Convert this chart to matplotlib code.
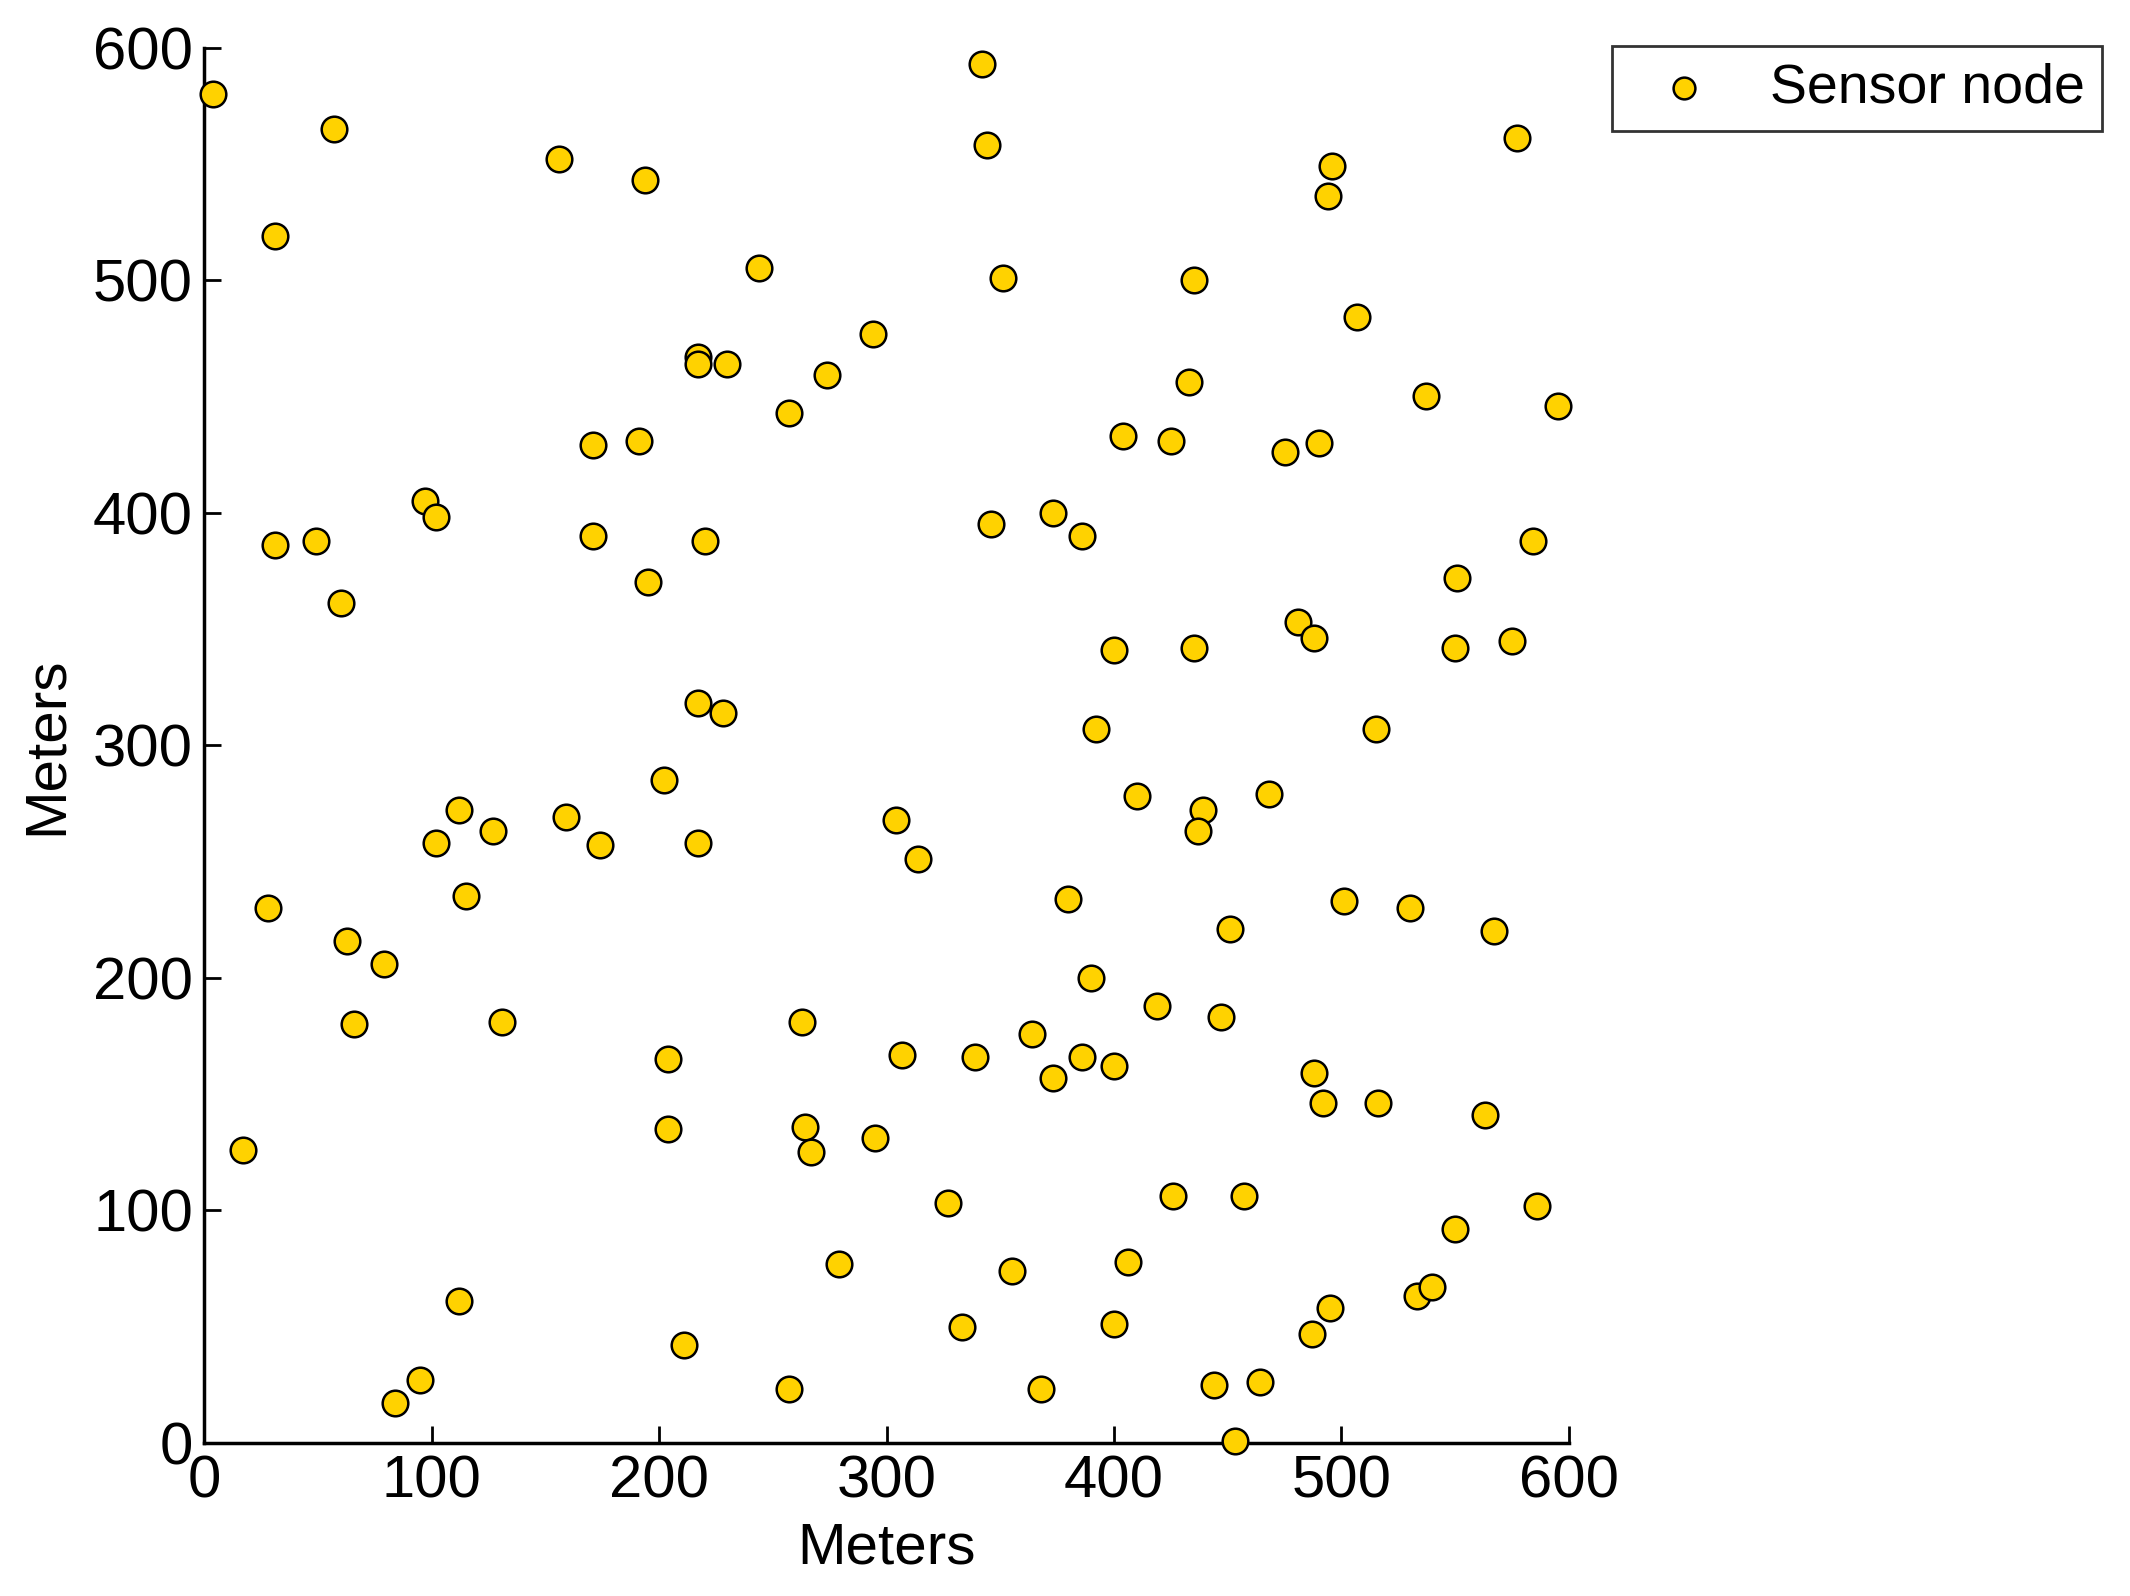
import matplotlib
matplotlib.use("Agg")
import matplotlib.pyplot as plt

plt.rcParams['font.family'] = ['Liberation Sans', 'DejaVu Sans']

# sensor node positions (meters)
x_m = [4, 57, 31, 156, 194, 342, 344, 577, 496, 494,
       351, 244, 435, 507, 294, 217, 217, 230, 274, 433,
       537, 595, 257, 404, 425, 490, 475, 191, 171, 97,
       102, 31, 49, 171, 220, 346, 373, 386, 584, 60,
       195, 551, 481, 488, 575, 550, 435, 400, 217, 228,
       392, 515, 202, 112, 127, 159, 174, 102, 217, 304,
       314, 410, 439, 437, 468, 115, 28, 63, 79, 66,
       131, 380, 451, 501, 530, 567, 390, 419, 447, 263,
       204, 307, 339, 364, 386, 400, 373, 488, 492, 516,
       563, 17, 204, 264, 267, 295, 327, 426, 457, 586,
       550, 112, 279, 355, 406, 333, 400, 495, 487, 533,
       540, 211, 95, 84, 257, 368, 444, 464, 453]
y_m = [580, 565, 519, 552, 543, 593, 558, 561, 549, 536,
       501, 505, 500, 484, 477, 467, 464, 464, 459, 456,
       450, 446, 443, 433, 431, 430, 426, 431, 429, 405,
       398, 386, 388, 390, 388, 395, 400, 390, 388, 361,
       370, 372, 353, 346, 345, 342, 342, 341, 318, 314,
       307, 307, 285, 272, 263, 269, 257, 258, 258, 268,
       251, 278, 272, 263, 279, 235, 230, 216, 206, 180,
       181, 234, 221, 233, 230, 220, 200, 188, 183, 181,
       165, 167, 166, 176, 166, 162, 157, 159, 146, 146,
       141, 126, 135, 136, 125, 131, 103, 106, 106, 102,
       92, 61, 77, 74, 78, 50, 51, 58, 47, 63,
       67, 42, 27, 17, 23, 23, 25, 26, 1]

ticks = [0, 100, 200, 300, 400, 500, 600]

fig = plt.figure(figsize=(21.3, 15.96), dpi=100)
ax = fig.add_axes([0.0958, 0.0959, 0.6408, 0.8743])

ax.scatter(x_m, y_m, s=340, c='#FFD200', edgecolors='black', linewidths=1.8,
           label='Sensor node', zorder=3, clip_on=False)

ax.set_xlim(0, 600)
ax.set_ylim(0, 600)
ax.set_xticks(ticks)
ax.set_yticks(ticks)
ax.tick_params(direction='in', length=12, width=2, labelsize=43, pad=8)
ax.spines['top'].set_visible(False)
ax.spines['right'].set_visible(False)
ax.spines['left'].set_linewidth(2.5)
ax.spines['bottom'].set_linewidth(2.5)

ax.set_xlabel('Meters', fontsize=42, labelpad=9)
ax.set_ylabel('Meters', fontsize=42, labelpad=14)

leg = ax.legend(loc='upper left', bbox_to_anchor=(1612 / 2130, 1 - 46 / 1596),
                bbox_transform=fig.transFigure, fontsize=40, frameon=True,
                fancybox=False, edgecolor='black', borderpad=0.3,
                handletextpad=0.55, markerscale=0.85, borderaxespad=0)
leg.get_frame().set_linewidth(2)

fig.savefig('out.png', dpi=100)
